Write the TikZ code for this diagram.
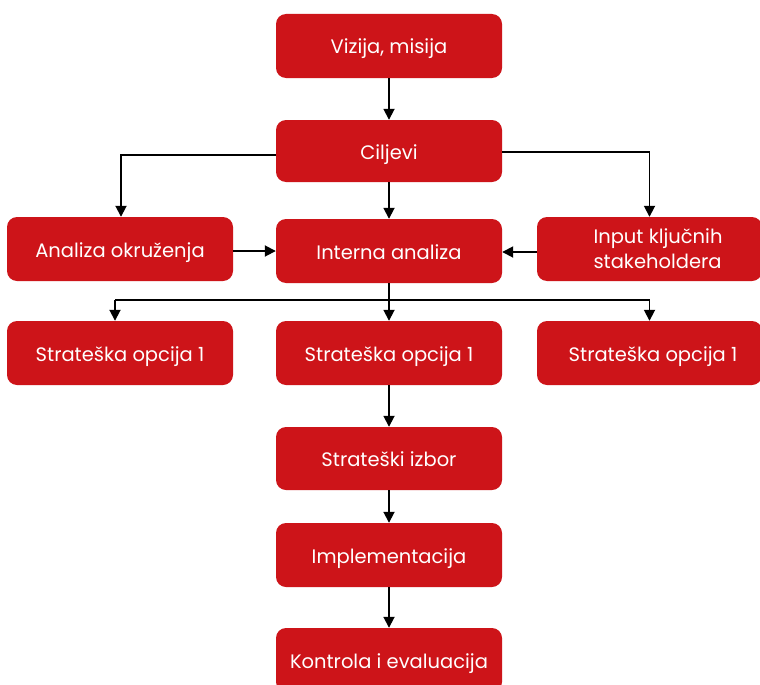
\documentclass[tikz,border=0pt]{standalone}
\usepackage{fontspec}
\setmainfont{Poppins}
\usetikzlibrary{arrows.meta}
\definecolor{boxred}{HTML}{CD1419}
\tikzset{
  stepbox/.style={fill=boxred, rounded corners=10pt, text=white,
    minimum width=226pt, minimum height=64pt, inner sep=0pt,
    text height=16pt, text depth=0pt,
    font=\fontsize{19.5}{25}\selectfont},
  link/.style={draw=black, line width=1.8pt,
    -{Triangle[width=11pt,length=11pt]}},
  plain/.style={draw=black, line width=1.6pt}
}
\begin{document}
\begin{tikzpicture}[x=1pt,y=-1pt]
\useasboundingbox (0,0) rectangle (760,685);
\fill[white] (0,0) rectangle (760,685);

% boxes
\node[stepbox] (viz) at (389,46) {Vizija, misija};
\node[stepbox, minimum height=62pt] (cil) at (389,151) {Ciljevi};
\node[stepbox] (ana) at (120,249) {Analiza okruženja};
\node[stepbox] (int) at (389,251) {Interna analiza};
\node[stepbox, minimum width=225pt, align=left, text height={}, text depth={}]
  (inp) at (649.5,249)
  {\kern17pt Input ključnih\\\kern17pt stakeholdera};
\node[stepbox] (o1) at (120,353) {Strateška opcija 1};
\node[stepbox] (o2) at (389,353) {Strateška opcija 1};
\node[stepbox, minimum width=225pt] (o3) at (649.5,353) {\kern7pt Strateška opcija 1};
\node[stepbox, minimum height=63pt] (izb) at (389,458.5) {Strateški izbor};
\node[stepbox] (imp) at (389,555) {Implementacija};
\node[stepbox] (kon) at (389,660) {Kontrola i evaluacija};

% connectors (yshift is in page units, so negative values move down)
\draw[link] (viz) -- (cil);
\draw[link] ([yshift=-4pt]cil.west) -| ([xshift=1pt]ana.north);
\draw[link] ([yshift=-1pt]cil.east) -| (inp.north);
\draw[link] (cil) -- (int);
\draw[link] ([yshift=-2pt]ana.east) -- (int.west);
\draw[link] ([yshift=-3pt]inp.west) -- ([yshift=-1pt]int.east);

\coordinate (split) at (389,300);
\draw[link] (int) -- (o2);
\draw[plain] ([xshift=-5pt]o1.north |- split) -- (inp.north |- split);
\draw[link] ([xshift=-5pt]o1.north |- split) -- ([xshift=-5pt]o1.north);
\draw[link] (o3.north |- split) -- (o3.north);

\draw[link] (o2) -- (izb);
\draw[link] (izb) -- (imp);
\draw[link] (imp) -- (kon);
\end{tikzpicture}
\end{document}
